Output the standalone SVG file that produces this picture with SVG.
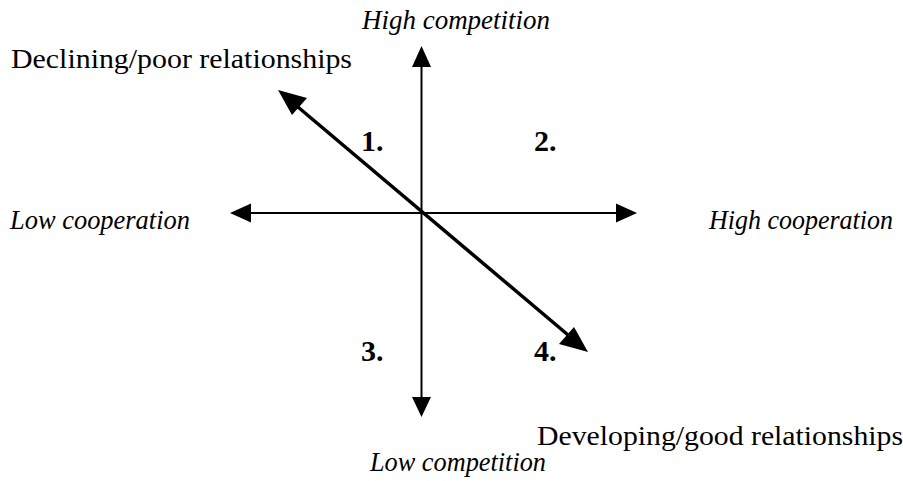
<svg xmlns="http://www.w3.org/2000/svg" width="903" height="481" viewBox="0 0 903 481">
<style>
.t{font-family:"Liberation Serif",serif;font-size:28px;fill:#000}
.i{font-style:italic;font-size:27px}
.n{font-weight:bold;font-size:30px}
.ax{stroke:#000;stroke-width:2;fill:none}
.dg{stroke:#000;stroke-width:3.5;fill:none}
</style>
<rect width="903" height="481" fill="#fff"/>
<g id="connectors">
<line class="ax" x1="421.5" y1="64" x2="421.5" y2="400"/>
<polygon points="421.5,46 412,67 431,67"/>
<polygon points="421.5,417 412,397 431,397"/>
<line class="ax" x1="248" y1="213" x2="620" y2="213"/>
<polygon points="230,213 251,203.5 251,222.5"/>
<polygon points="637,213 616,203.5 616,222.5"/>
<line class="dg" x1="292" y1="102" x2="574" y2="340"/>
<polygon points="278,90 307,98 292,115"/>
<polygon points="588,352 559,344 574,327"/>
</g>
<g id="label-high-competition"><text class="t i" x="362" y="29" textLength="188" lengthAdjust="spacingAndGlyphs">High competition</text></g>
<g id="label-declining"><text class="t" x="11" y="68" textLength="341" lengthAdjust="spacingAndGlyphs">Declining/poor relationships</text></g>
<g id="label-low-cooperation"><text class="t i" x="10" y="229" textLength="180" lengthAdjust="spacingAndGlyphs">Low cooperation</text></g>
<g id="label-high-cooperation"><text class="t i" x="709" y="229" textLength="184" lengthAdjust="spacingAndGlyphs">High cooperation</text></g>
<g id="label-developing"><text class="t" x="537" y="445" textLength="366" lengthAdjust="spacingAndGlyphs">Developing/good relationships</text></g>
<g id="label-low-competition"><text class="t i" x="370" y="471" textLength="176" lengthAdjust="spacingAndGlyphs">Low competition</text></g>
<g id="q1"><text class="t n" x="361" y="151">1.</text></g>
<g id="q2"><text class="t n" x="534" y="151">2.</text></g>
<g id="q3"><text class="t n" x="361" y="361">3.</text></g>
<g id="q4"><text class="t n" x="534" y="361">4.</text></g>
</svg>
